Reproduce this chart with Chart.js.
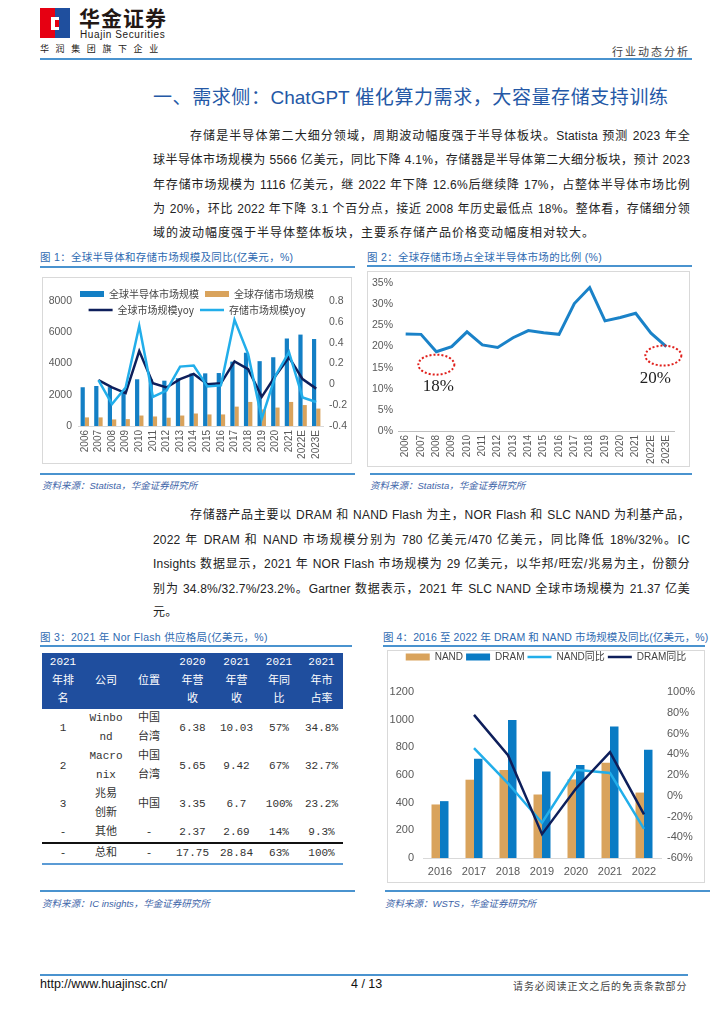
<!DOCTYPE html>
<html>
<head>
<meta charset="utf-8">
<script src="https://cdn.jsdelivr.net/npm/chart.js@4.4.1/dist/chart.umd.min.js"></script>
<style>
body{margin:0;width:724px;height:1024px;position:relative;background:#fff;overflow:hidden;
  font-family:"Liberation Sans","Noto Sans CJK SC",sans-serif;color:#222}
.a{position:absolute;white-space:nowrap}
.rule{position:absolute;height:2px;background:#4a93cf}
.ln{position:absolute;height:24px;line-height:24px;font-size:12px;color:#222;
  text-align:justify;text-align-last:justify;letter-spacing:0.2px}
.ln.last{text-align-last:left}
.cap{position:absolute;font-size:10.5px;color:#2e6ab1;letter-spacing:0.3px;white-space:nowrap}
.src{position:absolute;font-size:9.5px;color:#3d64a8;font-style:italic;white-space:nowrap}
.box{position:absolute;border:1px solid #d9d9d9;box-sizing:border-box}
.box canvas{position:absolute;left:0;top:0}
#tbl{position:absolute;left:42px;top:653px;width:301px;border-collapse:collapse;table-layout:fixed;
  font-family:"Liberation Mono","Noto Sans CJK SC",monospace;font-size:11px;color:#333}
#tbl th{background:#1f4e9e;color:#fff;font-weight:normal;height:56px;line-height:18.5px;padding:0;text-align:center}
#tbl td{line-height:19px;padding:0;text-align:center;vertical-align:middle}
#tbl tr.total td{border-top:2px solid #111;border-bottom:2px solid #5b9bd5;height:18px}
</style>
</head>
<body>

<!-- header -->
<div class="a" style="left:40px;top:8px;width:15px;height:30px;background:#e60012"></div>
<div class="a" style="left:55px;top:8px;width:15px;height:30px;background:#1f4f9e"></div>
<div class="a" style="left:51px;top:17px;width:8px;height:13px;background:#fff"></div>
<div class="a" style="left:55px;top:20px;width:4px;height:7px;background:#e60012"></div>
<div class="a" style="left:79px;top:7px;font-size:21px;line-height:21px;font-weight:bold;color:#231815;letter-spacing:1px;font-family:'Noto Sans CJK SC'">华金证券</div>
<div class="a" style="left:80px;top:30px;font-size:10px;line-height:10px;color:#231815;letter-spacing:0.6px">Huajin Securities</div>
<div class="a" style="left:40px;top:44px;font-size:9px;line-height:10px;color:#231815;letter-spacing:6.6px;font-family:'Noto Sans CJK SC'">华润集团旗下企业</div>
<div class="a" style="left:612px;top:43px;font-size:11px;color:#444;letter-spacing:2px;font-family:'Noto Sans CJK SC'">行业动态分析</div>
<div class="rule" style="left:40px;top:58px;width:652px"></div>

<!-- title -->
<div class="ln" style="left:153px;top:84px;width:515px;height:28px;line-height:28px;font-size:19px;color:#2458a6;letter-spacing:0">一、需求侧：ChatGPT 催化算力需求，大容量存储支持训练</div>

<!-- paragraph 1 -->
<div class="ln" style="left:190px;top:124px;width:500px">存储是半导体第二大细分领域，周期波动幅度强于半导体板块。Statista 预测 2023 年全</div>
<div class="ln" style="left:153px;top:148px;width:537px">球半导体市场规模为 5566 亿美元，同比下降 4.1%，存储器是半导体第二大细分板块，预计 2023</div>
<div class="ln" style="left:153px;top:173px;width:537px">年存储市场规模为 1116 亿美元，继 2022 年下降 12.6%后继续降 17%，占整体半导体市场比例</div>
<div class="ln" style="left:153px;top:197px;width:537px">为 20%，环比 2022 年下降 3.1 个百分点，接近 2008 年历史最低点 18%。整体看，存储细分领</div>
<div class="ln last" style="left:153px;top:221px;width:537px;letter-spacing:1px">域的波动幅度强于半导体整体板块，主要系存储产品价格变动幅度相对较大。</div>

<!-- figure 1 / 2 captions -->
<div class="cap" style="left:40px;top:249px">图 1：全球半导体和存储市场规模及同比(亿美元，%)</div>
<div class="rule" style="left:40px;top:266px;width:315px"></div>
<div class="cap" style="left:367px;top:249px">图 2：全球存储市场占全球半导体市场的比例 (%)</div>
<div class="rule" style="left:367px;top:265px;width:325px"></div>

<div class="box" style="left:42px;top:277px;width:310px;height:187px"><canvas id="c1" width="308" height="185"></canvas></div>
<div class="box" style="left:367px;top:271px;width:323px;height:196px"><canvas id="c2" width="321" height="194"></canvas></div>

<div class="rule" style="left:40px;top:473px;width:315px"></div>
<div class="rule" style="left:370px;top:473px;width:322px"></div>
<div class="src" style="left:42px;top:478px">资料来源：Statista，华金证券研究所</div>
<div class="src" style="left:370px;top:478px">资料来源：Statista，华金证券研究所</div>

<!-- paragraph 2 -->
<div class="ln" style="left:190px;top:503px;width:500px">存储器产品主要以 DRAM 和 NAND Flash 为主，NOR Flash 和 SLC NAND 为利基产品，</div>
<div class="ln" style="left:153px;top:528px;width:537px">2022 年 DRAM 和 NAND 市场规模分别为 780 亿美元/470 亿美元，同比降低 18%/32%。IC</div>
<div class="ln" style="left:153px;top:552px;width:537px">Insights 数据显示，2021 年 NOR Flash 市场规模为 29 亿美元，以华邦/旺宏/兆易为主，份额分</div>
<div class="ln" style="left:153px;top:577px;width:537px">别为 34.8%/32.7%/23.2%。Gartner 数据表示，2021 年 SLC NAND 全球市场规模为 21.37 亿美</div>
<div class="ln last" style="left:153px;top:600px;width:537px">元。</div>

<!-- figure 3 / 4 captions -->
<div class="cap" style="left:40px;top:629px">图 3：2021 年 Nor Flash 供应格局(亿美元，%)</div>
<div class="rule" style="left:40px;top:645px;width:312px"></div>
<div class="cap" style="left:383px;top:629px;letter-spacing:0.1px">图 4：2016 至 2022 年 DRAM 和 NAND 市场规模及同比(亿美元，%)</div>
<div class="rule" style="left:383px;top:645px;width:322px"></div>

<table id="tbl"></table>

<div class="box" style="left:387px;top:650px;width:318px;height:233px"><canvas id="c4" width="316" height="231"></canvas></div>

<div class="rule" style="left:40px;top:890px;width:315px"></div>
<div class="rule" style="left:385px;top:890px;width:325px"></div>
<div class="src" style="left:42px;top:896px">资料来源：IC insights，华金证券研究所</div>
<div class="src" style="left:385px;top:896px">资料来源：WSTS，华金证券研究所</div>

<!-- footer -->
<div class="rule" style="left:40px;top:974px;width:648px"></div>
<div class="a" style="left:40px;top:977px;font-size:12.5px;color:#111">http://www.huajinsc.cn/</div>
<div class="a" style="left:351px;top:977px;font-size:12.5px;color:#111">4 / 13</div>
<div class="a" style="left:513px;top:978px;font-size:10px;color:#444;letter-spacing:0.9px;font-family:'Noto Sans CJK SC'">请务必阅读正文之后的免责条款部分</div>

<script>
// 图1 / 图2 年份
const years = ['2006', '2007', '2008', '2009', '2010', '2011', '2012', '2013', '2014', '2015', '2016', '2017', '2018', '2019', '2020', '2021', '2022E', '2023E']
const semiSize = [2480, 2560, 2490, 2260, 2990, 2990, 2900, 3060, 3360, 3370, 3390, 4120, 4690, 4150, 4400, 5600, 5850, 5566]
const memSize = [550, 550, 420, 440, 670, 610, 530, 670, 800, 740, 740, 1240, 1540, 1060, 1180, 1540, 1340, 1116]
const semiYoy = [null, 0.04, -0.03, -0.085, 0.32, 0.01, -0.03, 0.05, 0.10, 0.0, 0.01, 0.22, 0.145, -0.12, 0.08, 0.26, 0.05, -0.041]
const memYoy = [null, 0.04, -0.19, -0.03, 0.56, -0.12, -0.06, 0.17, 0.18, -0.02, -0.01, 0.62, 0.29, -0.33, 0.08, 0.31, -0.126, -0.17]
const memShare = [23.0, 22.9, 18.8, 20.0, 23.5, 20.4, 19.8, 22.1, 23.8, 23.3, 22.9, 30.2, 34.0, 26.1, 26.9, 27.9, 23.2, 20.0]

// 图4
const years4 = ['2016', '2017', '2018', '2019', '2020', '2021', '2022']
const nandSize = [387, 566, 636, 459, 568, 689, 473]
const dramSize = [411, 717, 998, 626, 673, 951, 782]
const nandYoy = [null, 46, 12, -26, 25, 22, -32]
const dramYoy = [null, 78, 39, -37, 7, 42, -18]

// 图3 表格
const tblHead = ['2021<br>年排<br>名', '公司', '位置', '2020<br>年营<br>收', '2021<br>年营<br>收', '2021<br>年同<br>比', '2021<br>年市<br>占率']
const tblRank = ['1', '2', '3', '-', '-']
const tblCompany = ['Winbo<br>nd', 'Macro<br>nix', '兆易<br>创新', '其他', '总和']
const tblRegion = ['中国<br>台湾', '中国<br>台湾', '中国', '-', '-']
const tblRev2020 = ['6.38', '5.65', '3.35', '2.37', '17.75']
const tblRev2021 = ['10.03', '9.42', '6.7', '2.69', '28.84']
const tblYoy = ['57%', '67%', '100%', '14%', '63%']
const tblShare = ['34.8%', '32.7%', '23.2%', '9.3%', '100%']

const navy = '#0e1f5b'
const lightBlue = '#22aeea'
const barBlue = '#137fc5'
const tan = '#d9a35c'

Chart.defaults.font.family = '"Liberation Sans","Noto Sans CJK SC",sans-serif'
Chart.defaults.color = '#595959'
Chart.defaults.animation = false

// build the table
const tbl = document.getElementById('tbl')
const widths = [42, 44, 42, 45, 43, 42, 43]
let html = '<colgroup>' + widths.map(w => '<col style="width:' + w + 'px">').join('') + '</colgroup>'
html += '<tr>' + tblHead.map(h => '<th>' + h + '</th>').join('') + '</tr>'
tblRank.forEach((r, i) => {
    const cls = i === tblRank.length - 1 ? ' class="total"' : ''
    html += '<tr' + cls + '>' + [r, tblCompany[i], tblRegion[i], tblRev2020[i], tblRev2021[i], tblYoy[i], tblShare[i]]
        .map(v => '<td>' + v + '</td>').join('') + '</tr>'
})
tbl.innerHTML = html

// legend: boxes for bars, lines for lines, in dataset order
function legendItems(chart) {
    const items = Chart.defaults.plugins.legend.labels.generateLabels(chart)
    items.sort((a, b) => a.datasetIndex - b.datasetIndex)
    items.forEach(it => {
        const ds = chart.data.datasets[it.datasetIndex]
        if (ds.type === 'line') {
            it.pointStyle = 'line'
            it.lineWidth = 2.5
            it.strokeStyle = ds.borderColor
        } else {
            it.pointStyle = 'rect'
            it.lineWidth = 0
            it.fillStyle = ds.backgroundColor
        }
    })
    return items
}

// move the legend after layout
const legendShift = {
    id: 'legendShift',
    afterLayout(chart, args, opts) {
        if (chart.legend && opts.dy) {
            chart.legend.top += opts.dy
            chart.legend.bottom += opts.dy
        }
    }
}

function fixW(w) { return s => { s.width = w } }
function fixH(h) { return s => { s.height = h } }
const noGrid = { display: false, drawTicks: false }
const plain = v => String(v)

// 图1
new Chart(document.getElementById('c1'), {
    type: 'bar',
    data: {
        labels: years,
        datasets: [
            { label: '全球半导体市场规模', data: semiSize, backgroundColor: barBlue, yAxisID: 'y', order: 2, categoryPercentage: 0.62, barPercentage: 1 },
            { label: '全球存储市场规模', data: memSize, backgroundColor: tan, yAxisID: 'y', order: 3, categoryPercentage: 0.62, barPercentage: 1 },
            { type: 'line', label: '全球市场规模yoy', data: semiYoy, borderColor: navy, borderWidth: 2.5, pointRadius: 0, yAxisID: 'y1', order: 1 },
            { type: 'line', label: '存储市场规模yoy', data: memYoy, borderColor: lightBlue, borderWidth: 2.5, pointRadius: 0, yAxisID: 'y1', order: 0 }
        ]
    },
    options: {
        responsive: false,
        layout: { padding: { top: -19 } },
        plugins: {
            legend: {
                position: 'top',
                labels: {
                    usePointStyle: true, pointStyleWidth: 24, boxHeight: 6, padding: 6,
                    font: { size: 10, family: '"Noto Sans CJK SC"' }, color: '#444',
                    generateLabels: legendItems
                }
            },
            legendShift: { dy: 24 },
            tooltip: { enabled: false }
        },
        scales: {
            x: {
                grid: noGrid,
                border: { color: '#d9d9d9' },
                ticks: { maxRotation: 90, minRotation: 90, autoSkip: false, font: { size: 10 }, padding: 4 },
                afterFit: fixH(37)
            },
            y: {
                position: 'left', min: 0, max: 8000,
                grid: noGrid, border: { display: false },
                ticks: { stepSize: 2000, font: { size: 10.5 }, padding: 6, callback: plain },
                afterFit: fixW(35)
            },
            y1: {
                position: 'right', min: -0.4, max: 0.8,
                grid: noGrid, border: { display: false },
                ticks: { stepSize: 0.2, font: { size: 10.5 }, padding: 6, callback: v => String(Math.round(v * 10) / 10) },
                afterFit: fixW(28)
            }
        }
    },
    plugins: [legendShift]
})

// 图2 callouts
const callouts = [
    { year: '2008', text: '18%', dx: 0, dy: 13, tdx: 2, tdy: 35 },
    { year: '2023E', text: '20%', dx: -3, dy: 9, tdx: -11, tdy: 32 }
]
const calloutPlugin = {
    id: 'callout',
    afterDatasetsDraw(chart) {
        const { ctx, scales: { x, y } } = chart
        ctx.save()
        callouts.forEach(c => {
            const i = years.indexOf(c.year)
            const px = x.getPixelForValue(i)
            const py = y.getPixelForValue(memShare[i])
            ctx.strokeStyle = '#e0201c'
            ctx.lineWidth = 2
            ctx.setLineDash([2, 2])
            ctx.beginPath()
            ctx.ellipse(px + c.dx, py + c.dy, 18, 10, 0, 0, Math.PI * 2)
            ctx.stroke()
            ctx.setLineDash([])
            ctx.fillStyle = '#222'
            ctx.font = '17px "Liberation Serif"'
            ctx.textAlign = 'center'
            ctx.textBaseline = 'middle'
            ctx.fillText(c.text, px + c.tdx, py + c.tdy)
        })
        ctx.restore()
    }
}

new Chart(document.getElementById('c2'), {
    type: 'line',
    data: {
        labels: years,
        datasets: [{ data: memShare, borderColor: '#1a82c8', borderWidth: 3, pointRadius: 0 }]
    },
    options: {
        responsive: false,
        layout: { padding: { top: 9, right: 15 } },
        plugins: { legend: { display: false }, tooltip: { enabled: false } },
        scales: {
            x: {
                offset: true,
                grid: noGrid,
                border: { color: '#bfbfbf' },
                ticks: { maxRotation: 90, minRotation: 90, autoSkip: false, font: { size: 10 }, padding: 4 },
                afterFit: fixH(35)
            },
            y: {
                min: 0, max: 35,
                grid: noGrid, border: { display: false },
                ticks: { stepSize: 5, font: { size: 10.5 }, padding: 5, callback: v => v + '%' },
                afterFit: fixW(30)
            }
        }
    },
    plugins: [calloutPlugin]
})

// 图4
new Chart(document.getElementById('c4'), {
    type: 'bar',
    data: {
        labels: years4,
        datasets: [
            { label: 'NAND', data: nandSize, backgroundColor: tan, yAxisID: 'y', order: 2, categoryPercentage: 0.5, barPercentage: 1 },
            { label: 'DRAM', data: dramSize, backgroundColor: '#0a7bc4', yAxisID: 'y', order: 3, categoryPercentage: 0.5, barPercentage: 1 },
            { type: 'line', label: 'NAND同比', data: nandYoy, borderColor: lightBlue, borderWidth: 2.5, pointRadius: 0, yAxisID: 'y1', order: 1 },
            { type: 'line', label: 'DRAM同比', data: dramYoy, borderColor: navy, borderWidth: 2.5, pointRadius: 0, yAxisID: 'y1', order: 0 }
        ]
    },
    options: {
        responsive: false,
        layout: { padding: { top: 18 } },
        plugins: {
            legend: {
                position: 'top',
                labels: {
                    usePointStyle: true, pointStyleWidth: 24, boxHeight: 7, padding: 3,
                    font: { size: 10 }, color: '#444',
                    generateLabels: legendItems
                }
            },
            legendShift: { dy: -20 },
            tooltip: { enabled: false }
        },
        scales: {
            x: {
                grid: noGrid,
                border: { color: '#d9d9d9' },
                ticks: { font: { size: 11 }, padding: 7 },
                afterFit: fixH(24)
            },
            y: {
                position: 'left', min: 0, max: 1200,
                grid: noGrid, border: { display: false },
                ticks: { stepSize: 200, font: { size: 11 }, padding: 9, callback: plain },
                afterFit: fixW(35)
            },
            y1: {
                position: 'right', min: -60, max: 100,
                grid: noGrid, border: { display: false },
                ticks: { stepSize: 20, font: { size: 11 }, padding: 6, callback: v => v + '%' },
                afterFit: fixW(43)
            }
        }
    },
    plugins: [legendShift]
})
</script>
</body>
</html>
